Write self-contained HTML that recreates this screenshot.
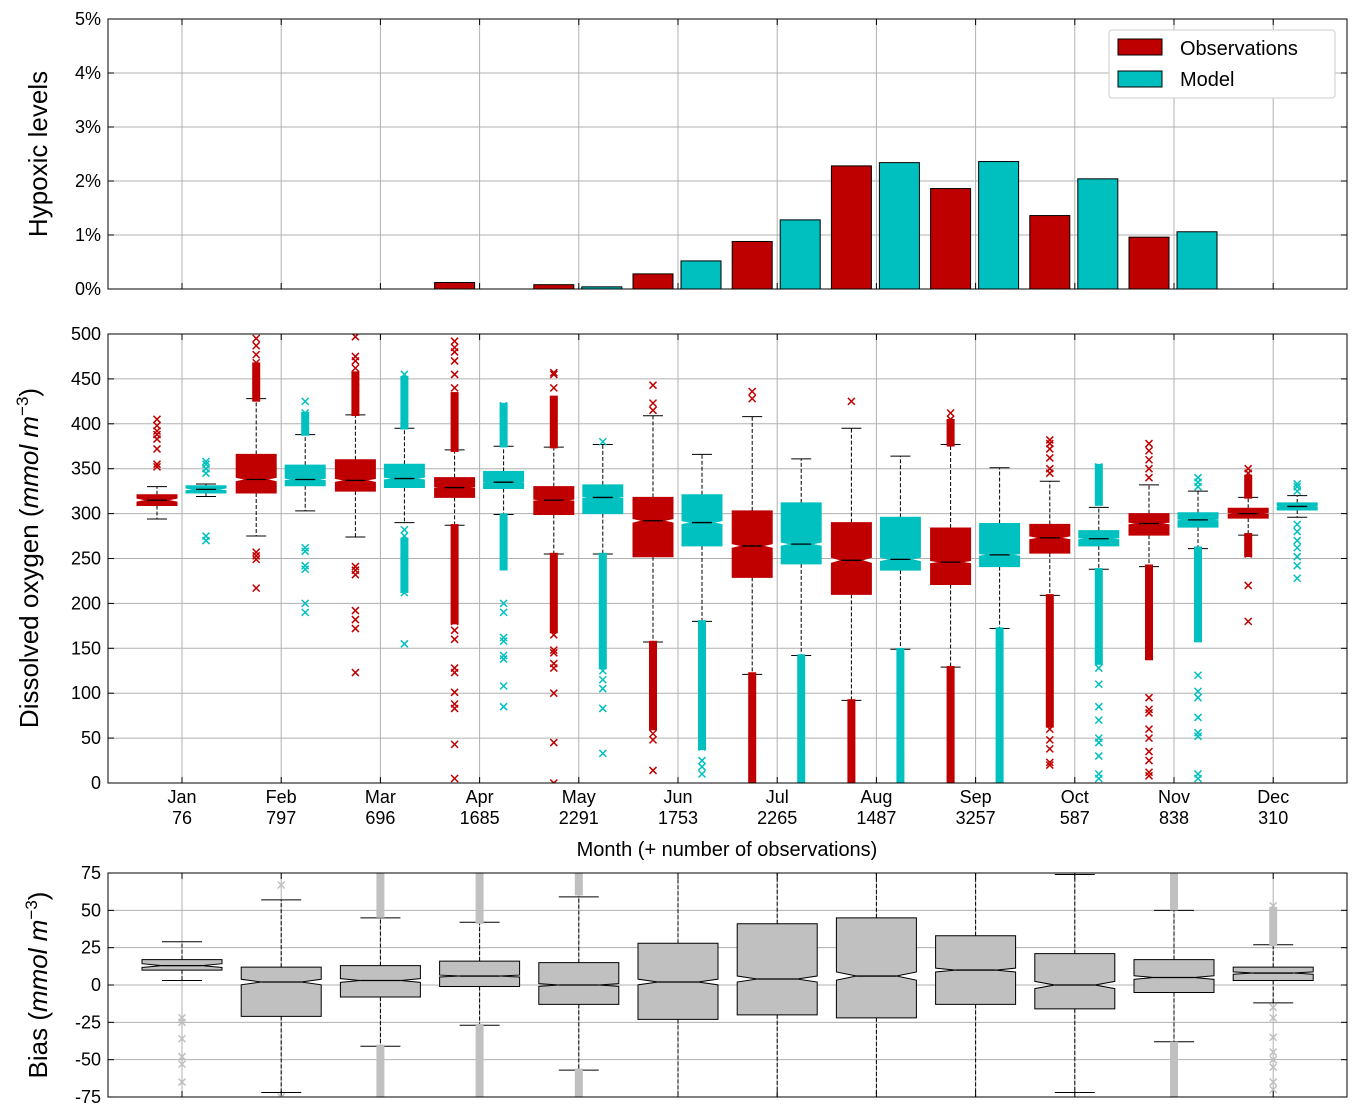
<!DOCTYPE html>
<html><head><meta charset="utf-8"><style>
body{margin:0;background:#fff}
svg{display:block;font-family:"Liberation Sans",sans-serif}
</style></head><body>
<svg id="c" width="1362" height="1118" viewBox="0 0 1362 1118" xmlns="http://www.w3.org/2000/svg">
<defs>
<clipPath id="cTop"><rect x="108" y="19" width="1239" height="270"/></clipPath>
<clipPath id="cMid"><rect x="108" y="334" width="1239" height="449"/></clipPath>
<clipPath id="cBot"><rect x="108" y="873" width="1239" height="224"/></clipPath>
</defs>
</svg>
<script>
const months=["Jan","Feb","Mar","Apr","May","Jun","Jul","Aug","Sep","Oct","Nov","Dec"];
const counts=[76,797,696,1685,2291,1753,2265,1487,3257,587,838,310];
const hypoObs=[0,0,0,0.12,0.08,0.28,0.88,2.28,1.86,1.36,0.96,0];
const hypoMod=[0,0,0,0,0.04,0.52,1.28,2.34,2.36,2.04,1.06,0];
const topTicks=[0,1,2,3,4,5];
const midTicks=[0,50,100,150,200,250,300,350,400,450,500];
const botTicks=[-75,-50,-25,0,25,50,75];
// [whiskerLo, q1, median, q3, whiskerHi]
const obsStats=[[294,309,315,321,330],[275,323,338,366,428],[274,325,337,360,410],[287,318,329,340,371],[255,299,315,330,374],[157,252,292,318,409],[121,229,264,303,408],[92,210,248,290,395],[129,221,246,284,377],[209,256,273,288,336],[241,276,289,300,332],[276,295,300,306,318]];
const modStats=[[319,323,327,331,333],[303,331,338,354,388],[290,329,339,355,395],[299,328,335,347,375],[255,300,318,332,377],[180,264,290,321,366],[142,244,266,312,361],[149,237,249,296,364],[172,241,254,289,351],[238,264,272,281,307],[261,285,293,301,325],[296,304,308,312,320]];
const biasStats=[[3,10,13,17,29],[-72,-21,2,12,57],[-41,-8,3,13,45],[-27,-1,6,16,42],[-57,-13,0,15,59],[-90,-23,2,28,90],[-90,-20,4,41,90],[-90,-22,6,45,90],[-90,-13,10,33,90],[-72,-16,0,21,74],[-38,-5,5,17,50],[-12,3,8,12,27]];
// sparse outlier values
const obsOut=[[352,355,372,383,388,392,398,405],[217,249,253,257,432,440,448,455,462,468,477,487,495],[123,172,182,192,232,237,241,415,425,433,440,447,455,462,470,475,497],[5,43,83,88,101,123,128,160,170,180,440,455,470,480,485,492],[0,45,100,128,133,145,148,165,172,380,400,412,425,440,455,457],[14,48,55,65,415,423,443],[5,15,25,35,48,55,428,436],[2,10,20,35,48,425],[2,10,20,30,380,390,400,405,412],[20,23,38,48,60,345,350,362,372,378,382],[8,12,25,35,50,60,78,82,95,340,350,360,370,378],[180,220,255,260,265,272,325,330,338,345,350]];
const modOut=[[270,275,345,350,355,358],[190,200,238,242,258,262,395,405,412,425],[155,212,218,225,233,245,255,265,275,282,400,412,425,438,448,455],[85,108,138,142,158,162,190,200,385,395,405,412,420],[33,83,105,115,125,135,380],[10,18,25,40,45,60],[2,8,15,25],[2,5,10,20,30],[2,8,15,25],[5,10,30,45,50,70,85,110,128,135,315,330,340,352],[5,10,52,56,73,95,102,120,330,335,340],[228,242,252,262,270,280,288,325,330,333]];
const biasOut=[[-22,-25,-36,-48,-53,-65],[67,-75],[],[],[],[],[],[],[],[],[],[30,35,40,45,50,53,-15,-22,-35,-45,-50,-55,-65,-70]];
// dense outlier ranges [lo,hi] (stacked markers)
const obsDense=[null,[428,465],[412,455],[[180,285],[372,432]],[[170,253],[376,428]],[62,155],[0,120],[0,90],[[0,127],[378,402]],[[65,207]],[[140,240]],[[255,275],[320,340]]];
const modDense=[null,[390,410],[[397,450],[215,270]],[[377,420],[240,297]],[[130,253]],[40,178],[0,140],[0,147],[0,170],[[135,236],[312,352]],[[160,260]],null];
const biasDense=[null,null,[[47,75],[-42,-75]],[[43,75],[-28,-75]],[[62,75],[-58,-75]],null,null,null,null,null,[[52,75],[-40,-75]],[[28,50]]];

const svg=document.getElementById('c');
const NS="http://www.w3.org/2000/svg";
function el(t,a,p){const e=document.createElementNS(NS,t);for(const k in a)e.setAttribute(k,a[k]);(p||svg).appendChild(e);return e;}
const xTick=i=>182+i*99.2;
const yTop=v=>289-v*54;
const yMid=v=>783-v*0.898;
const yBot=v=>985-v*1.493;
const RED="#c00000",CY="#00c0c0",GR="#c0c0c0";

function grid(y0,y1,ticks,yf,fmt,name){
  const g=el('g',{});
  
  
  ticks.forEach(t=>{const y=yf(t);el('line',{x1:108,x2:1347,y1:y,y2:y,stroke:'#b0b0b0','stroke-width':1},g);
    el('line',{x1:108,x2:114,y1:y,y2:y,stroke:'#000'},g);el('line',{x1:1341,x2:1347,y1:y,y2:y,stroke:'#000'},g);
    const tx=el('text',{x:101,y:y+6,'text-anchor':'end','font-size':18},g);tx.textContent=fmt(t);
    });
  months.forEach((m,i)=>{const x=xTick(i);el('line',{x1:x,x2:x,y1:y0,y2:y1,stroke:'#b0b0b0'},g);
    el('line',{x1:x,x2:x,y1:y1,y2:y1-6,stroke:'#000'},g);el('line',{x1:x,x2:x,y1:y0,y2:y0+6,stroke:'#000'},g);});
  return g;
}
function frame(y0,y1){el('rect',{x:108,y:y0,width:1239,height:y1-y0,fill:'none',stroke:'#000','stroke-width':1});}

// TOP
grid(19,289,topTicks,yTop,t=>t+'%','top');
const gt=el('g',{'clip-path':'url(#cTop)'});
months.forEach((m,i)=>{
  const x=xTick(i);
  const b1=el('rect',{x:x-45,y:yTop(hypoObs[i]),width:40,height:hypoObs[i]*54,fill:'#bf0000',stroke:'#000','stroke-width':1},gt);
  
  const b2=el('rect',{x:x+3,y:yTop(hypoMod[i]),width:40,height:hypoMod[i]*54,fill:'#00bfbf',stroke:'#000','stroke-width':1},gt);
  
});
frame(19,289);
// legend
const lg=el('g',{});

el('rect',{x:1109,y:30,width:226,height:68,rx:3,fill:'#fff',stroke:'#ccc'},lg);
el('rect',{x:1118,y:39,width:44,height:16,fill:'#bf0000',stroke:'#000'},lg);
el('rect',{x:1118,y:71,width:44,height:16,fill:'#00bfbf',stroke:'#000'},lg);
let t=el('text',{x:1180,y:55,'font-size':20},lg);t.textContent='Observations';

t=el('text',{x:1180,y:86,'font-size':20},lg);t.textContent='Model';


function marker(x,y,c,g){el('path',{d:`M${x-3.5} ${y-3.5}L${x+3.5} ${y+3.5}M${x-3.5} ${y+3.5}L${x+3.5} ${y-3.5}`,stroke:c,'stroke-width':1.5,fill:'none'},g);}
function box(cx,hw,s,n,yf,fill,g,name,outs,dense,mc){
  const [wl,q1,md,q3,wh]=s;
  const nh=1.57*(q3-q1)/Math.sqrt(n), nw=hw*0.5;
  const bg=el('g',{},g);
  
  el('line',{x1:cx,x2:cx,y1:yf(q3),y2:yf(wh),stroke:'#000','stroke-dasharray':'4,2'},bg);
  el('line',{x1:cx,x2:cx,y1:yf(q1),y2:yf(wl),stroke:'#000','stroke-dasharray':'4,2'},bg);
  el('line',{x1:cx-hw/2,x2:cx+hw/2,y1:yf(wh),y2:yf(wh),stroke:'#000'},bg);
  el('line',{x1:cx-hw/2,x2:cx+hw/2,y1:yf(wl),y2:yf(wl),stroke:'#000'},bg);
  const pts=[[cx-hw,q1],[cx-hw,md-nh],[cx-nw,md],[cx-hw,md+nh],[cx-hw,q3],[cx+hw,q3],[cx+hw,md+nh],[cx+nw,md],[cx+hw,md-nh],[cx+hw,q1]];
  el('polygon',{points:pts.map(p=>p[0]+','+yf(p[1])).join(' '),fill:fill,stroke:fill===GR?'#000':fill,'stroke-width':1},bg);
  el('line',{x1:cx-nw,x2:cx+nw,y1:yf(md),y2:yf(md),stroke:'#000','stroke-width':1.3},bg);
  if(dense){const ds=Array.isArray(dense[0])?dense:[dense];ds.forEach(d=>{const a=yf(d[0]),b=yf(d[1]);el('rect',{x:cx-4,y:Math.min(a,b)-3,width:8,height:Math.abs(a-b)+6,fill:mc},bg);});}
  outs.forEach(v=>marker(cx,yf(v),mc,bg));
}
// MID
grid(334,783,midTicks,yMid,t=>t,'mid');
const gm=el('g',{'clip-path':'url(#cMid)'});
months.forEach((m,i)=>{
  const x=xTick(i);
  box(x-25,20,obsStats[i],counts[i],yMid,RED,gm,'obs-box-'+m.toLowerCase(),obsOut[i],obsDense[i],RED);
  box(x+24,20,modStats[i],counts[i],yMid,CY,gm,'model-box-'+m.toLowerCase(),modOut[i],modDense[i],CY);
});
frame(334,783);
months.forEach((m,i)=>{
  const x=xTick(i);
  let a=el('text',{x:x,y:803,'text-anchor':'middle','font-size':18});a.textContent=m;
  
  a=el('text',{x:x,y:824,'text-anchor':'middle','font-size':18});a.textContent=counts[i];
  
});
// BOT
grid(873,1097,botTicks,yBot,t=>t,'bias');
const gb=el('g',{'clip-path':'url(#cBot)'});
months.forEach((m,i)=>{
  box(xTick(i),40,biasStats[i],counts[i],yBot,GR,gb,'bias-box-'+m.toLowerCase(),biasOut[i],biasDense[i],GR);
});
frame(873,1097);

function title(x,y,rot,html,name,size){
  const e=el('text',{x:x,y:y,'text-anchor':'middle','font-size':size,transform:rot?`rotate(-90 ${x} ${y})`:''});
  e.innerHTML=html;
}
title(47,154,true,'Hypoxic levels','top-y-axis-title',26);
title(38,558,true,'Dissolved oxygen (<tspan font-style="italic">mmol m</tspan><tspan font-size="17" dy="-10">−3</tspan><tspan dy="10">)</tspan>','mid-y-axis-title',26);
title(47,985,true,'Bias (<tspan font-style="italic">mmol m</tspan><tspan font-size="17" dy="-10">−3</tspan><tspan dy="10">)</tspan>','bias-y-axis-title',26);
title(727,856,false,'Month (+ number of observations)','x-axis-title',20);
</script>
</body></html>
